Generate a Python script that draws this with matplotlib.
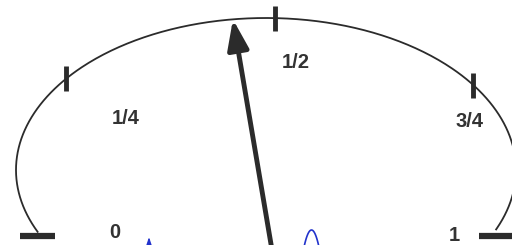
import numpy as np
import matplotlib
matplotlib.use("Agg")
import matplotlib.pyplot as plt

# ============ DATA ============
# dial drawn as part of an ellipse (pixel units, y pointing down)
dial_center = (266, 170)
dial_radii = (250, 152)
arc_start_deg = 204
arc_end_deg = -23

tick_labels = ["0", "1/4", "1/2", "3/4", "1"]
tick_angles = [204, 143, 88, 34, -23]
label_pos = [(115, 232), (126, 118), (296, 62), (470, 121), (454, 235)]

needle_base = (272, 250)
needle_angle = 97.6  # where the needle tip meets the dial

INK = "#2b2b2b"


def dial_point(deg):
    t = np.radians(deg)
    return (dial_center[0] + dial_radii[0] * np.cos(t),
            dial_center[1] - dial_radii[1] * np.sin(t))


fig = plt.figure(figsize=(5.12, 2.45), dpi=100)
ax = fig.add_axes([0, 0, 1, 1])
ax.set_xlim(0, 512)
ax.set_ylim(245, 0)
ax.axis("off")

# arc
t = np.linspace(arc_start_deg, arc_end_deg, 400)
xs, ys = dial_point(t)
ax.plot(xs, ys, color=INK, lw=1.3)

# ticks: ends are horizontal bars, inner ones short vertical bars
for i, ang in enumerate(tick_angles):
    x, y = dial_point(ang)
    if i == 0:
        ax.plot([20, 55], [y + 4, y + 4], color=INK, lw=4.5, solid_capstyle="butt")
    elif i == len(tick_angles) - 1:
        ax.plot([479, 515], [y + 7, y + 7], color=INK, lw=4.5, solid_capstyle="butt")
    else:
        ax.plot([x, x], [y - 12.5, y + 12.5], color=INK, lw=3.5, solid_capstyle="butt")

for lab, (lx, ly) in zip(tick_labels, label_pos):
    ax.text(lx, ly, lab, ha="center", va="center", fontsize=14.5,
            fontweight="bold", family="Liberation Sans", color="#333333")

# needle
tip = dial_point(needle_angle)
ax.annotate("", xy=tip, xytext=needle_base,
            arrowprops=dict(arrowstyle="-|>,head_length=0.9,head_width=0.32",
                            mutation_scale=20, lw=3.5, color=INK,
                            shrinkA=0, shrinkB=0))

# blue pen marks cut off at the bottom edge
ax.annotate("", xy=(149, 237), xytext=(149, 250),
            arrowprops=dict(arrowstyle="-|>,head_length=0.6,head_width=0.2",
                            mutation_scale=7, lw=1.0, color="#2233cc",
                            shrinkA=0, shrinkB=0))
bx = np.linspace(303, 320, 50)
by = 230 + 22 * ((bx - 311.5) / 8.5) ** 2
ax.plot(bx, by, color="#2233cc", lw=1.2)

fig.savefig("out.png", dpi=100, facecolor="white")
